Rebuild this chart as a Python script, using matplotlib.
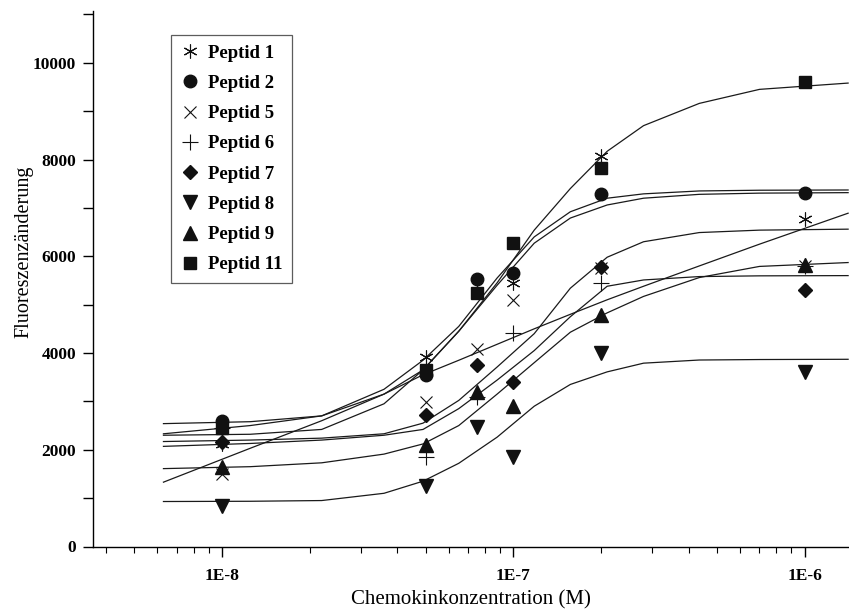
"""Dose-response curves of chemokine fluorescence change for several peptides."""

import matplotlib
matplotlib.use("Agg")
import matplotlib.pyplot as plt
from matplotlib.ticker import LogLocator, MultipleLocator, NullFormatter

# measured concentrations (M)
conc = [1e-8, 5e-8, 7.5e-8, 1e-7, 2e-7, 1e-6]

# measured fluorescence change per peptide
peptid_1 = [2110, 3920, 5270, 5440, 8070, 6760]
peptid_2 = [2600, 3550, 5520, 5660, 7290, 7315]
peptid_5 = [1500, 2990, 4090, 5090, 5750, 5800]
peptid_6 = [2450, 1840, 3090, 4420, 5450, 5790]
peptid_7 = [2170, 2710, 3760, 3400, 5770, 5310]
peptid_8 = [830, 1260, 2470, 1850, 4010, 3610]
peptid_9 = [1650, 2090, 3190, 2900, 4780, 5820]
peptid_11 = [2460, 3650, 5250, 6270, 7820, 9610]

# fitted curves
curve_conc = [6.3e-9, 1.25e-8, 2.2e-8, 3.6e-8, 4.9e-8, 6.5e-8, 8.8e-8,
              1.18e-7, 1.57e-7, 2.1e-7, 2.8e-7, 4.35e-7, 7e-7, 1.41e-6]
fit_1 = [2300, 2320, 2420, 2950, 3650, 4450, 5400, 6270, 6790, 7060, 7200, 7280, 7305, 7315]
fit_2 = [2540, 2580, 2700, 3250, 3850, 4550, 5550, 6400, 6920, 7200, 7290, 7350, 7365, 7370]
fit_5 = [1330, 2030, 2600, 3150, 3550, 3850, 4180, 4500, 4800, 5100, 5380, 5800, 6250, 6890]
fit_6 = [2170, 2200, 2240, 2330, 2550, 3020, 3710, 4400, 5340, 5980, 6300, 6490, 6540, 6560]
fit_7 = [2070, 2130, 2200, 2300, 2420, 2850, 3440, 4050, 4750, 5380, 5510, 5580, 5595, 5600]
fit_8 = [930, 935, 950, 1100, 1350, 1720, 2260, 2900, 3350, 3610, 3790, 3855, 3865, 3870]
fit_9 = [1610, 1650, 1730, 1910, 2120, 2500, 3150, 3800, 4430, 4830, 5170, 5560, 5790, 5870]
fit_11 = [2330, 2500, 2700, 3150, 3650, 4450, 5450, 6540, 7400, 8170, 8700, 9160, 9450, 9580]

x_ticks = [1e-8, 1e-7, 1e-6]
x_tick_labels = ["1E-8", "1E-7", "1E-6"]


def main():
    plt.rcParams["font.family"] = ["Liberation Serif", "DejaVu Serif"]

    fig = plt.figure(figsize=(8.49, 6.10), dpi=100)
    ax = fig.add_axes([93 / 849, 63.5 / 610, 1 - 93 / 849, (599 - 63.5) / 610])

    for fit in [fit_1, fit_2, fit_5, fit_6, fit_7, fit_8, fit_9, fit_11]:
        ax.plot(curve_conc, fit, color="#1a1a1a", lw=0.9, zorder=2)

    ink = "#111111"
    series = [
        ("Peptid 1", peptid_1, dict(marker=(6, 2, 0), ms=10, mew=0.8, mfc="none", mec=ink)),
        ("Peptid 2", peptid_2, dict(marker="o", ms=9, mfc=ink, mec=ink)),
        ("Peptid 5", peptid_5, dict(marker="x", ms=9, mew=0.8, mec=ink)),
        ("Peptid 6", peptid_6, dict(marker="+", ms=11, mew=0.8, mec=ink)),
        ("Peptid 7", peptid_7, dict(marker="D", ms=7.5, mfc=ink, mec=ink)),
        ("Peptid 8", peptid_8, dict(marker="v", ms=9.5, mfc=ink, mec=ink)),
        ("Peptid 9", peptid_9, dict(marker="^", ms=9.5, mfc=ink, mec=ink)),
        ("Peptid 11", peptid_11, dict(marker="s", ms=8.5, mfc=ink, mec=ink)),
    ]
    for label, values, style in series:
        ax.plot(conc, values, ls="none", label=label, zorder=3, **style)

    ax.set_xscale("log")
    ax.set_xlim(3.61e-9, 1.42e-6)
    ax.set_ylim(0, 11070)

    ax.set_xticks(x_ticks, x_tick_labels)
    ax.xaxis.set_minor_locator(LogLocator(base=10, subs=range(2, 10)))
    ax.xaxis.set_minor_formatter(NullFormatter())
    ax.yaxis.set_major_locator(MultipleLocator(2000))
    ax.yaxis.set_minor_locator(MultipleLocator(1000))

    ax.spines["top"].set_visible(False)
    ax.spines["right"].set_visible(False)
    for side in ("left", "bottom"):
        ax.spines[side].set_linewidth(1.0)

    # tick lengths in points (10 px major at 100 dpi)
    ax.tick_params(axis="x", which="major", direction="out", length=7.2, width=1, pad=8.5)
    ax.tick_params(axis="x", which="minor", direction="out", length=4.3, width=0.8)
    ax.tick_params(axis="y", which="both", direction="out", length=7.2, width=1, pad=5)
    for lbl in ax.get_xticklabels() + ax.get_yticklabels():
        lbl.set_fontweight("bold")
        lbl.set_fontsize(12.5)

    ax.set_xlabel("Chemokinkonzentration (M)", fontsize=15, labelpad=4)
    ax.set_ylabel("Fluoreszenzänderung", fontsize=14.5)
    ax.yaxis.set_label_coords(-0.079, 0.55)

    leg = ax.legend(loc="upper left", bbox_to_anchor=(0.103, 0.955), borderaxespad=0,
                    frameon=True, fancybox=False, handlelength=1.0, handletextpad=0.5,
                    labelspacing=0.7, borderpad=0.5,
                    prop={"weight": "bold", "size": 13.5})
    leg.get_frame().set_edgecolor("#333333")
    leg.get_frame().set_linewidth(0.9)

    fig.savefig("out.png", dpi=100)


if __name__ == "__main__":
    main()
